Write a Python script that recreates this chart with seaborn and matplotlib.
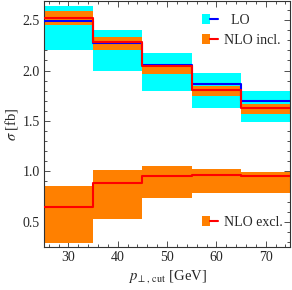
import numpy as np
import pandas as pd
import seaborn as sns
import matplotlib.pyplot as plt
from matplotlib.patches import Patch
from matplotlib.lines import Line2D
from matplotlib.legend_handler import HandlerTuple
from matplotlib.ticker import MultipleLocator

# bin edges of p_perp,cut [GeV]
edges = [25, 35, 45, 55, 65, 75]

# LO
lo = [2.49, 2.27, 2.06, 1.87, 1.70]
lo_hi = [2.64, 2.40, 2.17, 1.98, 1.80]
lo_lo = [2.20, 2.00, 1.80, 1.63, 1.49]

# NLO inclusive
nlo_inc = [2.52, 2.28, 2.045, 1.81, 1.63]
nlo_inc_hi = [2.59, 2.33, 2.07, 1.85, 1.67]
nlo_inc_lo = [2.45, 2.20, 1.97, 1.75, 1.57]

# NLO exclusive
nlo_exc = [0.645, 0.884, 0.953, 0.963, 0.95]
nlo_exc_hi = [0.86, 1.013, 1.053, 1.027, 0.99]
nlo_exc_lo = [0.29, 0.53, 0.74, 0.79, 0.79]

cyan = "#00ffff"
orange = "#ff8000"
red = "#ff0000"
blue = "#0000ff"

sns.set_style("ticks")
plt.rcParams['font.family'] = ['Liberation Serif', 'DejaVu Serif']
plt.rcParams['mathtext.fontset'] = 'stix'
plt.rcParams['font.size'] = 10


def ext(v):
    # repeat last value so steps-post covers the final bin
    return list(v) + [v[-1]]


fig = plt.figure(figsize=(2.92, 2.90), dpi=100)
ax = fig.add_axes([43.7 / 292, 43 / 290, 246.7 / 292, 246 / 290])

ax.fill_between(edges, ext(lo_lo), ext(lo_hi), step="post", color=cyan, lw=0, zorder=1)
ax.fill_between(edges, ext(nlo_inc_lo), ext(nlo_inc_hi), step="post", color=orange, lw=0, zorder=2)
ax.fill_between(edges, ext(nlo_exc_lo), ext(nlo_exc_hi), step="post", color=orange, lw=0, zorder=2)

df = pd.DataFrame({"x": edges, "lo": ext(lo), "inc": ext(nlo_inc), "exc": ext(nlo_exc)})
sns.lineplot(data=df, x="x", y="lo", drawstyle="steps-post", color=blue, lw=1.5,
             estimator=None, ax=ax, zorder=3)
sns.lineplot(data=df, x="x", y="inc", drawstyle="steps-post", color=red, lw=1.5,
             estimator=None, ax=ax, zorder=4)
sns.lineplot(data=df, x="x", y="exc", drawstyle="steps-post", color=red, lw=1.5,
             estimator=None, ax=ax, zorder=4)

ax.set_xlim(25, 75)
ax.set_ylim(0.25, 2.69)
ax.xaxis.set_major_locator(MultipleLocator(10))
ax.xaxis.set_minor_locator(MultipleLocator(2))
ax.yaxis.set_major_locator(MultipleLocator(0.5))
ax.yaxis.set_minor_locator(MultipleLocator(0.1))
ax.tick_params(which="both", direction="in", top=True, right=True, width=0.6,
               color="#333333", labelsize=10, pad=3)
ax.tick_params(which="major", length=4)
ax.tick_params(which="minor", length=2)
for s in ax.spines.values():
    s.set_linewidth(0.8)
    s.set_color("#333333")

ax.set_xlabel(r"$p_{\perp,\,\mathrm{cut}}$ [GeV]", fontsize=10.5, labelpad=3)
ax.set_ylabel(r"$\sigma$ [fb]", fontsize=10.5, labelpad=2)

h_lo = (Patch(color=cyan, lw=0), Line2D([], [], color=blue, lw=1.5))
h_inc = (Patch(color=orange, lw=0), Line2D([], [], color=red, lw=1.5))
leg1 = ax.legend([h_lo, h_inc], ["  LO", "NLO incl."], handler_map={tuple: HandlerTuple(ndivide=None)},
                 loc="center left", bbox_to_anchor=(0.642, 0.881), frameon=False,
                 borderpad=0, borderaxespad=0, handlelength=1.15, handleheight=0.7,
                 handletextpad=0.45, labelspacing=0.5, fontsize=10)
ax.add_artist(leg1)
ax.legend([h_inc], ["NLO excl."], handler_map={tuple: HandlerTuple(ndivide=None)},
          loc="center left", bbox_to_anchor=(0.642, 0.100), frameon=False,
          borderpad=0, borderaxespad=0, handlelength=1.15, handleheight=0.7,
          handletextpad=0.45, fontsize=10)

fig.savefig("out.png", dpi=100)
